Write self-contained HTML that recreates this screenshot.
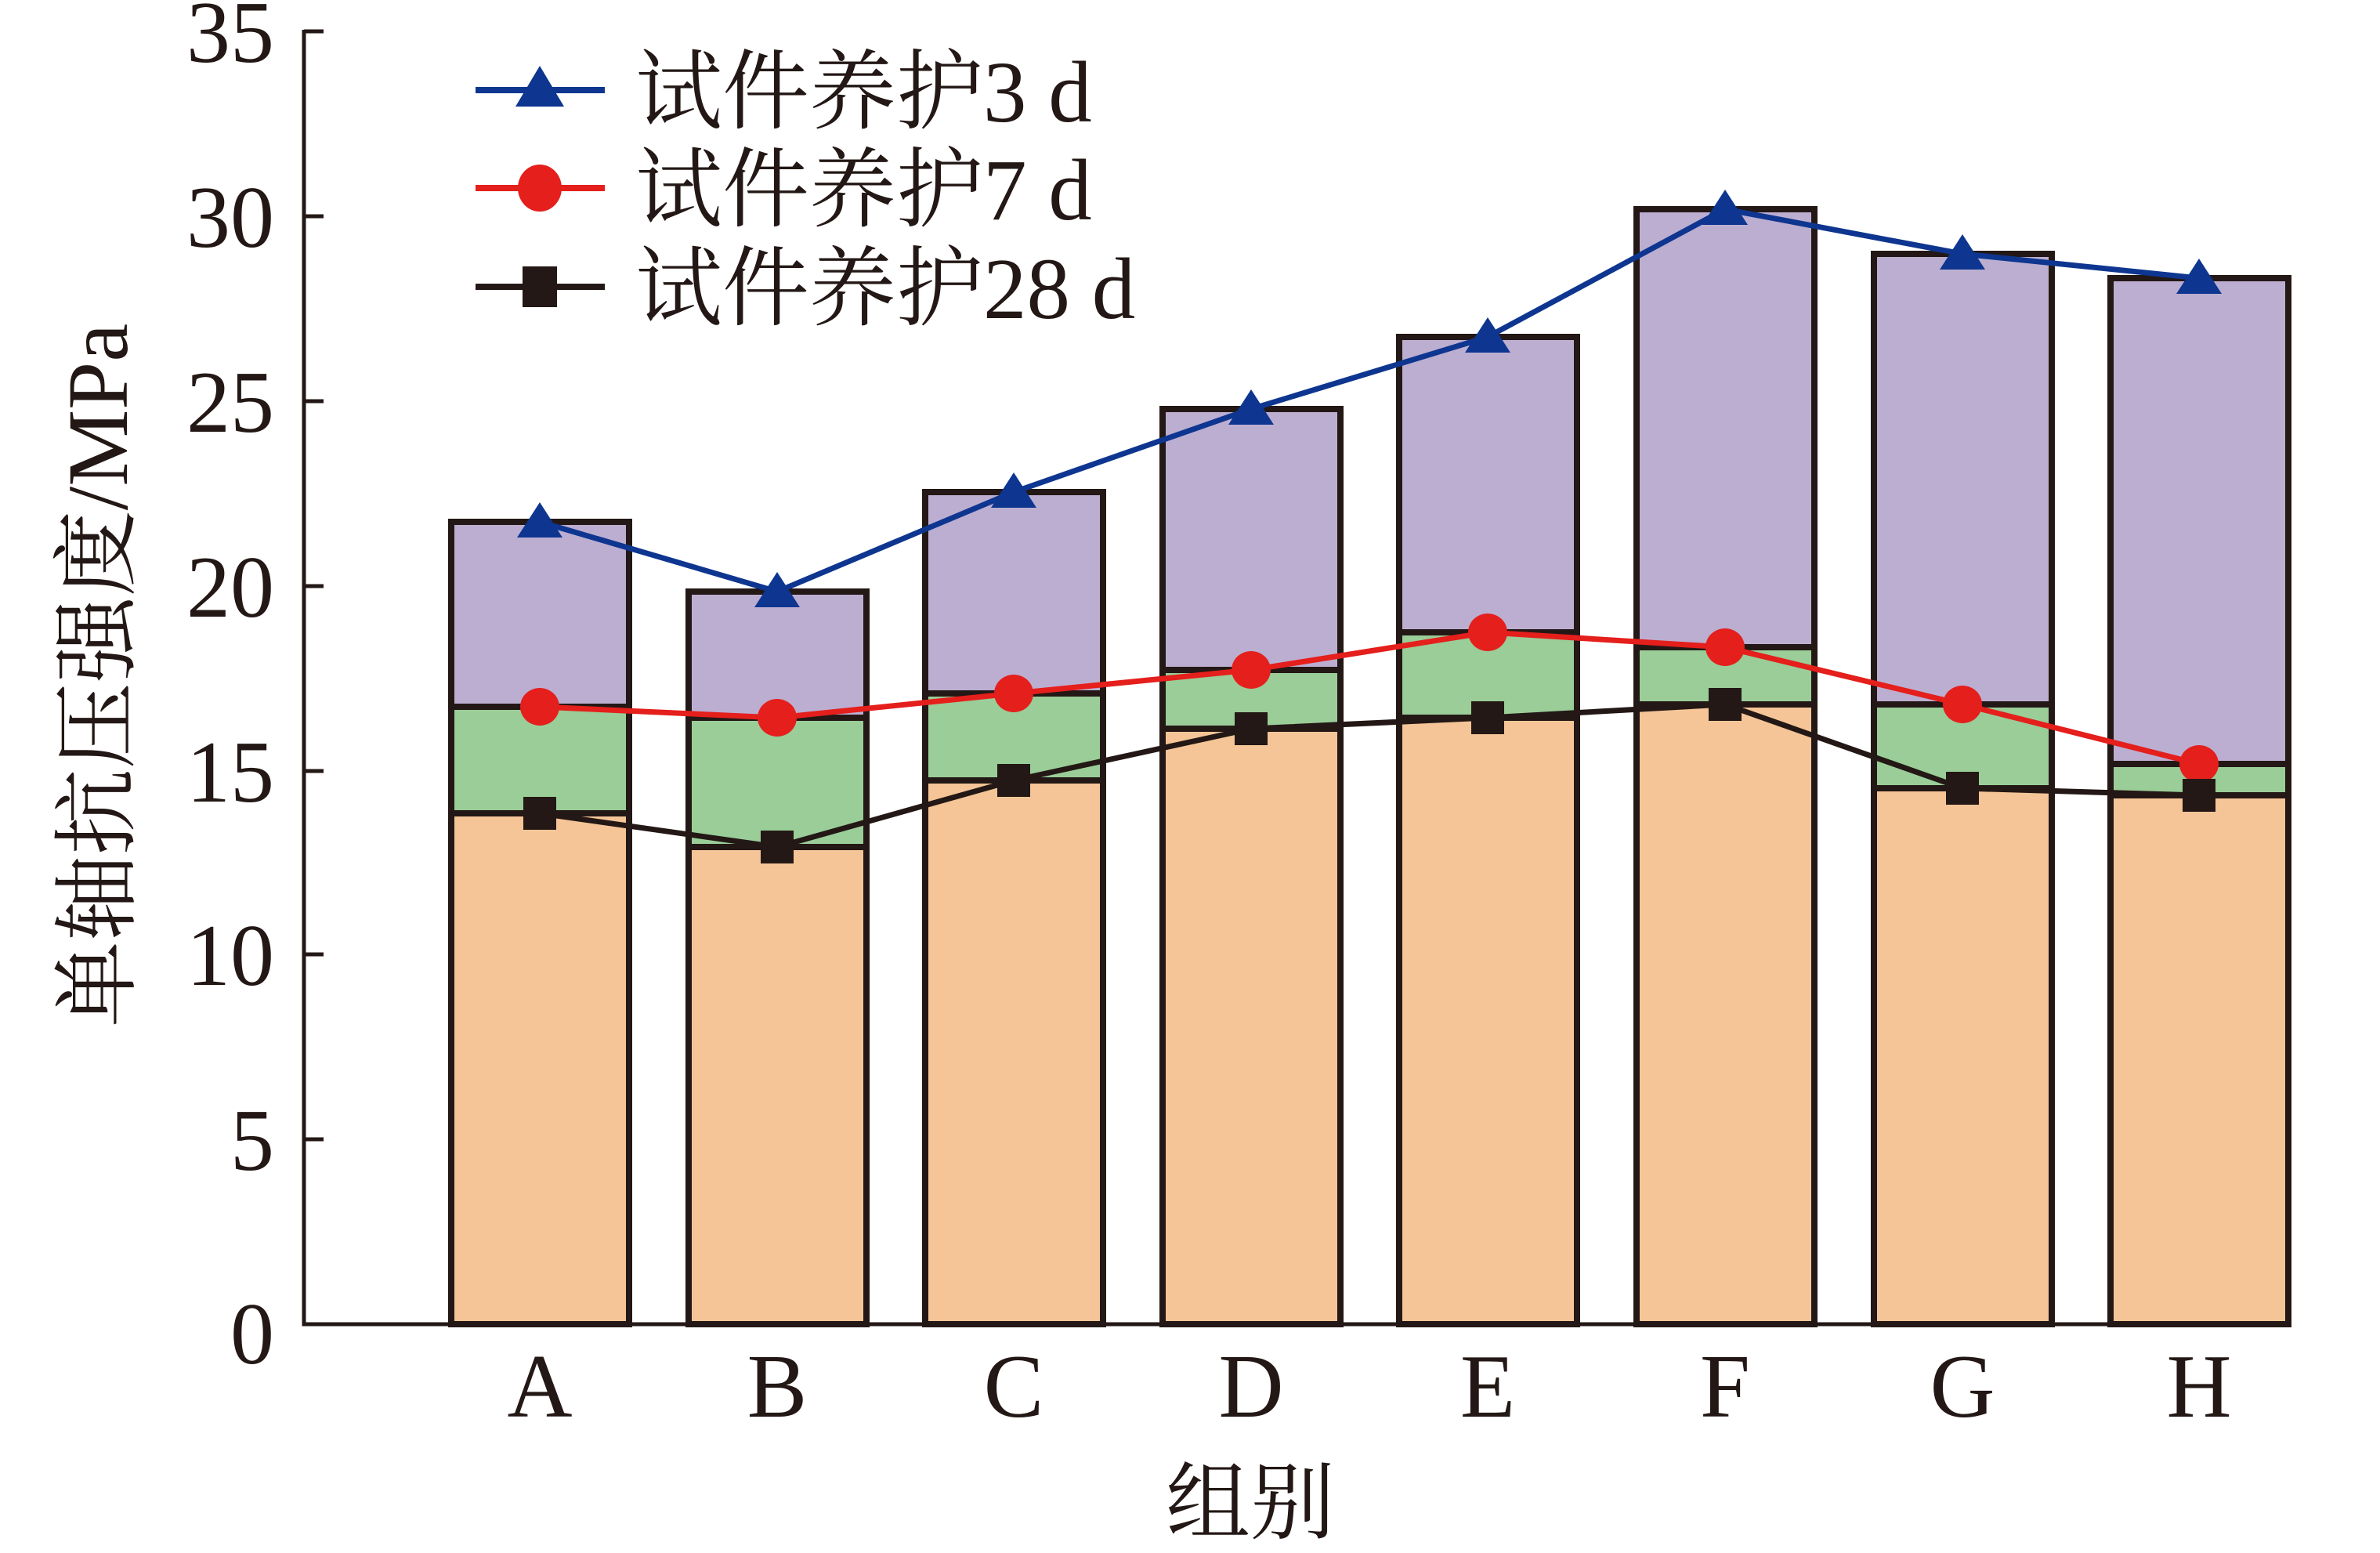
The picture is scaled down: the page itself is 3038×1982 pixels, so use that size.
<!DOCTYPE html>
<html><head><meta charset="utf-8"><style>html,body{margin:0;padding:0;background:#fff}svg{display:block}</style></head>
<body>
<svg width="3038" height="1982" viewBox="0 0 3038 1982" xmlns="http://www.w3.org/2000/svg" font-family="'Liberation Serif','Noto Serif CJK SC',serif" fill="#231815">
<g stroke="#231815" stroke-width="8">
<rect x="576" y="1038" width="227" height="652" fill="#f5c597"/>
<rect x="576" y="902" width="227" height="136" fill="#9acd98"/>
<rect x="576" y="666" width="227" height="236" fill="#bcaed1"/>
<rect x="879" y="1081" width="227" height="609" fill="#f5c597"/>
<rect x="879" y="916" width="227" height="165" fill="#9acd98"/>
<rect x="879" y="755" width="227" height="161" fill="#bcaed1"/>
<rect x="1181" y="996" width="227" height="694" fill="#f5c597"/>
<rect x="1181" y="885" width="227" height="111" fill="#9acd98"/>
<rect x="1181" y="628" width="227" height="257" fill="#bcaed1"/>
<rect x="1484" y="930" width="227" height="760" fill="#f5c597"/>
<rect x="1484" y="855" width="227" height="75" fill="#9acd98"/>
<rect x="1484" y="522" width="227" height="333" fill="#bcaed1"/>
<rect x="1786" y="916" width="227" height="774" fill="#f5c597"/>
<rect x="1786" y="807" width="227" height="109" fill="#9acd98"/>
<rect x="1786" y="430" width="227" height="377" fill="#bcaed1"/>
<rect x="2089" y="899" width="227" height="791" fill="#f5c597"/>
<rect x="2089" y="826" width="227" height="73" fill="#9acd98"/>
<rect x="2089" y="267" width="227" height="559" fill="#bcaed1"/>
<rect x="2392" y="1006" width="227" height="684" fill="#f5c597"/>
<rect x="2392" y="899" width="227" height="107" fill="#9acd98"/>
<rect x="2392" y="324" width="227" height="575" fill="#bcaed1"/>
<rect x="2694" y="1015" width="227" height="675" fill="#f5c597"/>
<rect x="2694" y="975" width="227" height="40" fill="#9acd98"/>
<rect x="2694" y="355" width="227" height="620" fill="#bcaed1"/>
</g>
<g stroke="#231815" stroke-width="5" fill="none">
<polyline points="388,38 388,1690 2924,1690"/>
<line x1="388" y1="40" x2="413" y2="40"/>
<line x1="388" y1="276" x2="413" y2="276"/>
<line x1="388" y1="512" x2="413" y2="512"/>
<line x1="388" y1="748" x2="413" y2="748"/>
<line x1="388" y1="984" x2="413" y2="984"/>
<line x1="388" y1="1218" x2="413" y2="1218"/>
<line x1="388" y1="1454" x2="413" y2="1454"/>
</g>
<g font-size="112" text-anchor="end">
<text x="350" y="79">35</text>
<text x="350" y="315">30</text>
<text x="350" y="551">25</text>
<text x="350" y="787">20</text>
<text x="350" y="1023">15</text>
<text x="350" y="1257">10</text>
<text x="350" y="1493">5</text>
<text x="350" y="1740">0</text>
</g>
<g font-size="115" text-anchor="middle">
<text x="689" y="1808">A</text>
<text x="992" y="1808">B</text>
<text x="1294" y="1808">C</text>
<text x="1597" y="1808">D</text>
<text x="1899" y="1808">E</text>
<text x="2202" y="1808">F</text>
<text x="2505" y="1808">G</text>
<text x="2807" y="1808">H</text>
<text x="1596" y="1955" font-size="108">组别</text>
</g>
<text transform="translate(162,862) rotate(-90)" font-size="110" text-anchor="middle">单轴抗压强度/MPa</text>
<polyline fill="none" stroke="#0e3690" stroke-width="7" points="689,666 992,755 1294,628 1597,522 1899,430 2202,267 2505,324 2807,355"/>
<polyline fill="none" stroke="#e41f1c" stroke-width="7" points="689,902 992,916 1294,885 1597,855 1899,807 2202,826 2505,899 2807,975"/>
<polyline fill="none" stroke="#231815" stroke-width="7" points="689,1038 992,1081 1294,996 1597,930 1899,916 2202,899 2505,1006 2807,1015"/>
<g fill="#0e3690">
<polygon points="689,641 718,686 660,686"/><polygon points="992,730 1021,775 963,775"/><polygon points="1294,603 1323,648 1265,648"/><polygon points="1597,497 1626,542 1568,542"/><polygon points="1899,405 1928,450 1870,450"/><polygon points="2202,242 2231,287 2173,287"/><polygon points="2505,299 2534,344 2476,344"/><polygon points="2807,330 2836,375 2778,375"/>
</g>
<g fill="#e41f1c">
<ellipse cx="689" cy="902" rx="25" ry="24"/><ellipse cx="992" cy="916" rx="25" ry="24"/><ellipse cx="1294" cy="885" rx="25" ry="24"/><ellipse cx="1597" cy="855" rx="25" ry="24"/><ellipse cx="1899" cy="807" rx="25" ry="24"/><ellipse cx="2202" cy="826" rx="25" ry="24"/><ellipse cx="2505" cy="899" rx="25" ry="24"/><ellipse cx="2807" cy="975" rx="25" ry="24"/>
</g>
<g fill="#231815">
<rect x="668" y="1017" width="42" height="42"/><rect x="971" y="1060" width="42" height="42"/><rect x="1273" y="975" width="42" height="42"/><rect x="1576" y="909" width="42" height="42"/><rect x="1878" y="895" width="42" height="42"/><rect x="2181" y="878" width="42" height="42"/><rect x="2484" y="985" width="42" height="42"/><rect x="2786" y="994" width="42" height="42"/>
</g>
<g stroke-width="8">
<line x1="607" y1="115" x2="772" y2="115" stroke="#0e3690"/>
<line x1="607" y1="240" x2="772" y2="240" stroke="#e41f1c"/>
<line x1="607" y1="366" x2="772" y2="366" stroke="#231815"/>
</g>
<polygon points="689,84 720,136 658,136" fill="#0e3690"/>
<ellipse cx="689" cy="240" rx="28" ry="30" fill="#e41f1c"/>
<rect x="667" y="340" width="44" height="52" fill="#231815"/>
<g font-size="111">
<text x="811" y="155">试件养护3 d</text>
<text x="811" y="280">试件养护7 d</text>
<text x="811" y="406">试件养护28 d</text>
</g>
</svg>
</body></html>
